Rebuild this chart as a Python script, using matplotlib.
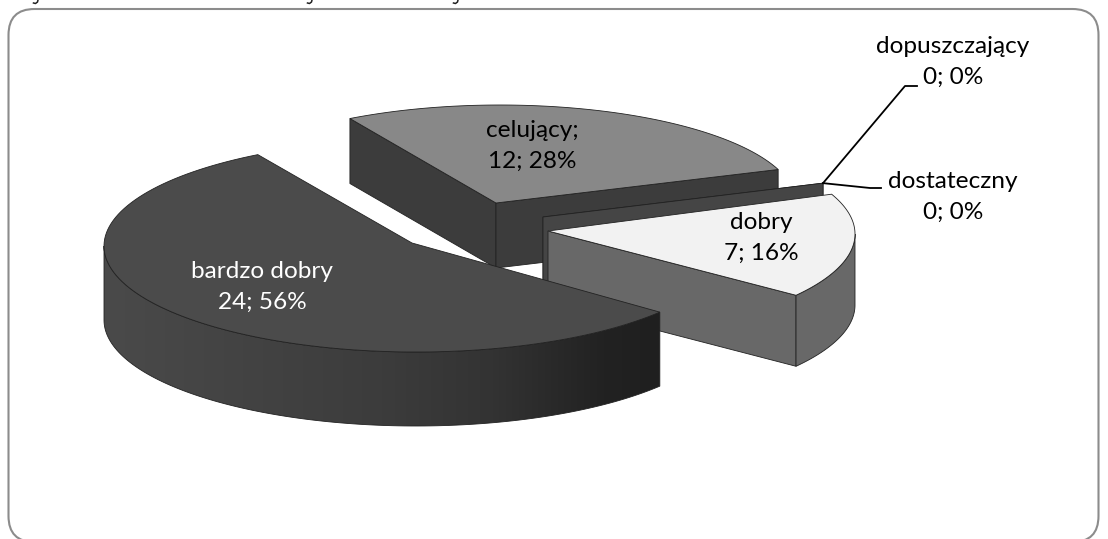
import numpy as np
import matplotlib
matplotlib.use('Agg')
import matplotlib.pyplot as plt
from matplotlib.patches import Polygon, FancyBboxPatch
from matplotlib.colors import LinearSegmentedColormap

plt.rcParams['font.family'] = ['Lato', 'DejaVu Sans']

# data
names = ['dopuszczający', 'dostateczny', 'dobry', 'bardzo dobry', 'celujący']
values = [0, 0, 7, 24, 12]
separators = ['', '', '', '', ';']

# layout of every slice: apex x, apex y, arc centre x, arc centre y, radius x, radius y, depth, arc rotation
geometry = {
    'dopuszczający': (543, 217, 543, 217, 298, 99, 65, 0),
    'dostateczny': (543, 217, 543, 217, 298, 99, 65, 0),
    'dobry': (548, 231, 548, 234, 307, 104, 71, -2.5),
    'bardzo dobry': (412, 243, 416, 246, 312, 106, 74, 0),
    'celujący': (496, 203, 500, 203, 296, 98, 65, 0),
}
top_colors = {'dopuszczający': '#454545', 'dostateczny': '#454545', 'dobry': '#f2f2f2',
              'bardzo dobry': '#4b4b4b', 'celujący': '#888888'}
side_colors = {'dopuszczający': '#454545', 'dostateczny': '#454545', 'dobry': '#686868',
               'bardzo dobry': '#3c3c3c', 'celujący': '#3c3c3c'}
label_pos = {'dobry': (761, 238, 'black'), 'bardzo dobry': (262, 287, 'white'),
             'celujący': (532, 146, 'black'), 'dopuszczający': (953, 62, 'black'),
             'dostateczny': (953, 197, 'black')}
leaders = {'dopuszczający': [(905, 86), (917, 86)], 'dostateczny': [(870, 188), (881, 188)]}
draw_order = ['celujący', 'dopuszczający', 'dostateczny', 'dobry', 'bardzo dobry']
start_angle = 70
edge = '#222222'

total = sum(values)
angles = {}
a = start_angle
for n, v in zip(names, values):
    rot = geometry[n][7]
    angles[n] = (a + rot, a + rot + v / total * 360)
    a += v / total * 360


def rim(name, t0, t1):
    px, py, cx, cy, rx, ry, d, rot = geometry[name]
    t = np.radians(np.linspace(t0, t1, 120))
    return np.column_stack([cx + rx * np.sin(t), cy - ry * np.cos(t)])


def radial_face(name, t):
    px, py, cx, cy, rx, ry, d, rot = geometry[name]
    end = rim(name, t, t)[0]
    return [(px, py), tuple(end), (end[0], end[1] + d), (px, py + d)]


fig = plt.figure(figsize=(11.08, 5.39), dpi=100)
ax = fig.add_axes([0, 0, 1, 1])
ax.set_xlim(0, 1108)
ax.set_ylim(539, 0)
ax.axis('off')

# rounded frame, its bottom runs off the picture
ax.add_patch(FancyBboxPatch((8.5, 9), 1090, 533, boxstyle='round,pad=0,rounding_size=26',
                            fc='white', ec='#8c8c8c', lw=1.5, zorder=0.5))

# tails of the line cut off above the frame
for x in [34, 308, 454]:
    ax.plot([x + 4, x + 3.5, x + 1.5, x - 0.5], [0, 2, 3.5, 3], color='#222222', lw=1.1)

wall_cmap = LinearSegmentedColormap.from_list(
    'wall', [(0, '#4a4a4a'), (0.5, '#3c3c3c'), (0.7, '#333333'), (0.9, '#222222'), (1, '#1f1f1f')])

for n in draw_order:
    t0, t1 = angles[n]
    px, py, cx, cy, rx, ry, d, rot = geometry[n]
    # cut faces facing the viewer
    if np.sin(np.radians(t0)) < 0:
        ax.add_patch(Polygon(radial_face(n, t0), fc=side_colors[n], ec=edge, lw=0.6))
    if np.sin(np.radians(t1)) > 0:
        ax.add_patch(Polygon(radial_face(n, t1), fc=side_colors[n], ec=edge, lw=0.6))
    # outer wall, only the front half is seen
    w0, w1 = max(t0, 90), min(t1, 270)
    if w1 > w0:
        r = rim(n, w0, w1)
        wall = np.vstack([r, r[::-1] + [0, d]])
        poly = Polygon(wall, fc=side_colors[n], ec=edge, lw=0.6)
        ax.add_patch(poly)
        if n == 'bardzo dobry':
            # wall gets darker to the right
            im = ax.imshow(np.linspace(0, 1, 256)[None, :], cmap=wall_cmap, aspect='auto', zorder=2,
                           extent=(wall[:, 0].min(), wall[:, 0].max(), wall[:, 1].max(), wall[:, 1].min()))
            im.set_clip_path(poly)
            poly.set_facecolor('none')
            poly.set_zorder(2.1)
    # top
    if t1 > t0:
        top = np.vstack([[(px, py)], rim(n, t0, t1)])
        ax.add_patch(Polygon(top, fc=top_colors[n], ec=edge, lw=0.6, zorder=3))

ax.set_xlim(0, 1108)
ax.set_ylim(539, 0)

# leader lines start at the edge of the zero slices
for n, pts in leaders.items():
    t = angles[n][0]
    start = rim(n, t, t)[0]
    xs = [start[0]] + [p[0] for p in pts]
    ys = [start[1]] + [p[1] for p in pts]
    ax.plot(xs, ys, color='black', lw=1.3, zorder=4)

for n, v, sep in zip(names, values, separators):
    x, y, c = label_pos[n]
    pct = round(v / total * 100)
    ax.text(x, y, f'{n}{sep}\n{v}; {pct}%', ha='center', va='center', color=c,
            fontsize=17.6, linespacing=1.6, zorder=5)

fig.savefig('out.png', dpi=100)
